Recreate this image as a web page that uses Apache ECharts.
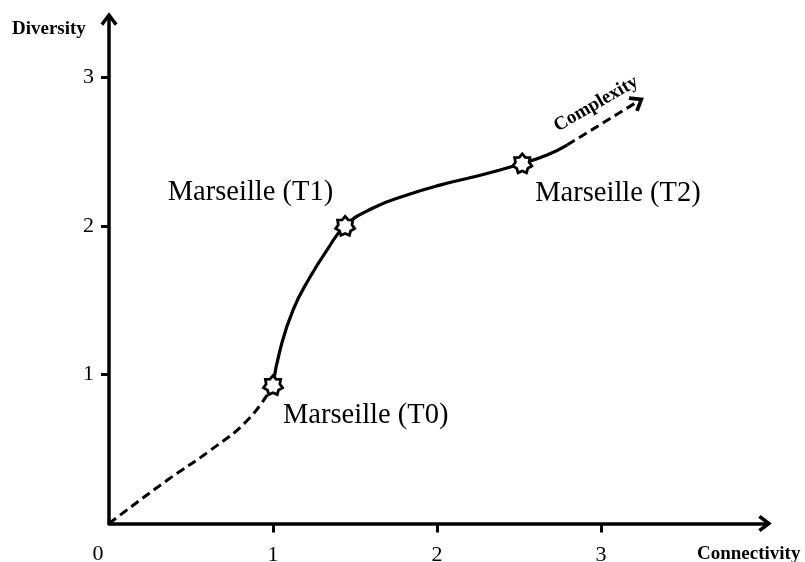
<!DOCTYPE html>
<html>
<head>
<meta charset="utf-8">
<script src="https://cdn.jsdelivr.net/npm/echarts@6/dist/echarts.min.js"></script>
<style>
  html, body { margin: 0; padding: 0; background: #fff; }
  #chart { width: 805px; height: 562px; }
</style>
</head>
<body>
<div id="chart"></div>
<script>
// data (connectivity, diversity)
const leadIn = [[0, 0], [0.354, 0.29], [0.616, 0.49], [0.85, 0.7], [1.0, 0.93]];
const mainCurve = [
  [1.0, 0.93], [1.043, 1.166], [1.122, 1.434], [1.226, 1.656], [1.329, 1.837], [1.44, 2.0],
  [1.61, 2.12], [1.817, 2.207], [2.018, 2.274], [2.22, 2.328], [2.384, 2.375], [2.52, 2.42],
  [2.671, 2.476], [2.793, 2.543]
];
const trendArrow = [[2.793, 2.543], [3.225, 2.836]];
const stages = ['Marseille (T0)', 'Marseille (T1)', 'Marseille (T2)'];
const stagePoints = [[1.0, 0.93], [1.44, 2.0], [2.52, 2.42]];
const tickValues = [1, 2, 3];

const serif = 'Liberation Serif, Times New Roman, serif';
const chevron = 'path://M50 0 L100 66 L84 80 L50 34 L16 80 L0 66 Z';

// outline star used for the Marseille points
function starPath(n, ratio) {
  let d = '';
  for (let i = 0; i < 2 * n; i++) {
    const r = i % 2 === 0 ? 50 : 50 * ratio;
    const a = Math.PI * i / n - Math.PI / 2;
    d += (i === 0 ? 'M' : 'L') + (50 + r * Math.cos(a)).toFixed(2) + ' ' + (50 + r * Math.sin(a)).toFixed(2) + ' ';
  }
  return 'path://' + d + 'Z';
}

// where each stage label sits around its point
const labelPlace = [
  { align: 'left', offset: [10, 30] },
  { align: 'right', offset: [-12, -33] },
  { align: 'left', offset: [13, 30] }
];

const chart = echarts.init(document.getElementById('chart'));

const axisCommon = {
  type: 'value',
  min: 0,
  interval: 1,
  splitLine: { show: false },
  axisLine: {
    show: true,
    onZero: false,
    symbol: ['none', chevron],
    symbolSize: [17, 14],
    lineStyle: { color: '#000', width: 3.5 }
  },
  axisTick: {
    show: true,
    customValues: tickValues,
    lineStyle: { color: '#000', width: 3 }
  },
  axisLabel: {
    customValues: tickValues,
    color: '#000',
    fontFamily: serif,
    fontSize: 22
  }
};

const option = {
  animation: false,
  grid: { left: 109, right: 40, top: 19, bottom: 38.5, outerBoundsMode: 'none', containLabel: false },
  xAxis: Object.assign({}, axisCommon, {
    max: 4,
    axisTick: Object.assign({}, axisCommon.axisTick, { length: 9 }),
    axisLabel: Object.assign({}, axisCommon.axisLabel, { margin: 21 })
  }),
  yAxis: Object.assign({}, axisCommon, {
    max: 3.39,
    axisTick: Object.assign({}, axisCommon.axisTick, { length: 8 }),
    axisLabel: Object.assign({}, axisCommon.axisLabel, { margin: 15 })
  }),
  series: [
    {
      type: 'line',
      data: leadIn,
      smooth: 0.5,
      symbol: 'none',
      lineStyle: { color: '#000', width: 3, type: [9, 5] },
      z: 2
    },
    {
      type: 'line',
      data: mainCurve,
      smooth: 0.5,
      symbol: 'none',
      lineStyle: { color: '#000', width: 3.2 },
      z: 3,
      markLine: {
        silent: true,
        symbol: ['none', chevron],
        symbolSize: [18, 14],
        label: { show: false },
        lineStyle: { color: '#000', width: 3, type: [9, 5] },
        data: [[{ coord: trendArrow[0] }, { coord: trendArrow[1] }]]
      }
    },
    {
      type: 'scatter',
      data: stagePoints.map((p, i) => ({
        value: p,
        name: stages[i],
        label: {
          show: true,
          position: 'inside',
          align: labelPlace[i].align,
          verticalAlign: 'middle',
          offset: labelPlace[i].offset,
          formatter: '{b}',
          color: '#000',
          textBorderWidth: 0,
          fontFamily: serif,
          fontSize: 28.5
        }
      })),
      symbol: starPath(7, 0.72),
      symbolSize: 19,
      itemStyle: { color: '#fff', borderColor: '#000', borderWidth: 2.8, opacity: 1 },
      z: 5
    }
  ],
  graphic: [
    {
      type: 'text', x: 98, y: 554,
      style: { text: '0', font: '22px ' + serif, fill: '#000', align: 'center', verticalAlign: 'middle' }
    },
    {
      type: 'text', left: 12, top: 20,
      style: { text: 'Diversity', font: 'bold 19px ' + serif, fill: '#000' }
    },
    {
      type: 'text', left: 697, top: 545,
      style: { text: 'Connectivity', font: 'bold 19px ' + serif, fill: '#000' }
    },
    {
      type: 'text', x: 596, y: 104, rotation: Math.PI / 6,
      style: { text: 'Complexity', font: 'bold 19px ' + serif, fill: '#000', align: 'center', verticalAlign: 'middle' }
    }
  ]
};

chart.setOption(option);
</script>
</body>
</html>
